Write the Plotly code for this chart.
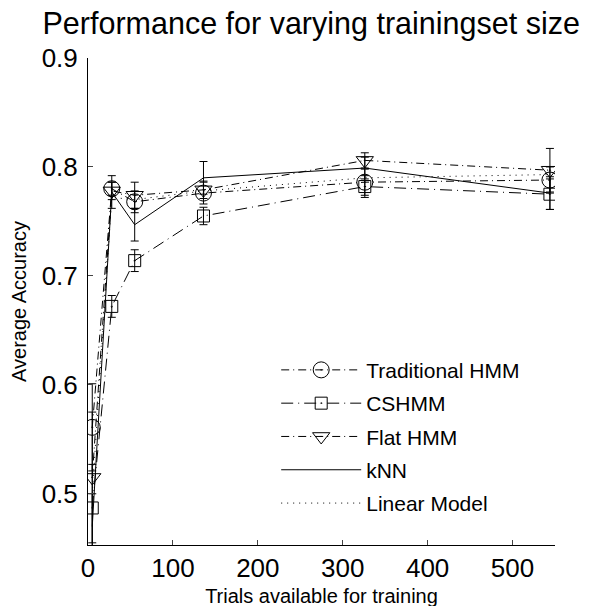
import plotly.graph_objects as go

x = [5, 28, 55, 136, 326, 544]

trad = [0.561, 0.780, 0.768, 0.776, 0.786, 0.788]
trad_err = [0.04, 0.006, 0.010, 0.010, 0.012, 0.012]

cshmm = [0.487, 0.672, 0.714, 0.755, 0.782, 0.775]
cshmm_err = [0.04, 0.010, 0.010, 0.008, 0.010, 0.014]

flat = [0.515, 0.778, 0.774, 0.779, 0.806, 0.797]
flat_err = [0.06, 0.008, 0.012, 0.008, 0.007, 0.020]

knn = [0.470, 0.777, 0.747, 0.790, 0.799, 0.776]
knn_err = [0.03, 0.015, 0.015, 0.015, 0.010, 0.015]

linear = [0.500, 0.772, 0.770, 0.778, 0.790, 0.793]

y_ticks = [0.5, 0.6, 0.7, 0.8, 0.9]
x_ticks = [0, 100, 200, 300, 400, 500]

FONT = "Liberation Sans, Arial, sans-serif"

fig = go.Figure()

def add(name, yv, err, dash, symbol, size):
    mode = "lines+markers" if symbol else "lines"
    kw = {}
    if err is not None:
        kw["error_y"] = dict(type="data", array=err, visible=True, color="black",
                             thickness=1, width=4)
    fig.add_trace(go.Scatter(
        x=x, y=yv, name=name, mode=mode, legendgroup=name,
        line=dict(color="black", width=1, dash=dash),
        marker=dict(symbol=symbol or "circle", size=size, color="black",
                    line=dict(color="black", width=1)),
        **kw))

add("Traditional HMM", trad, trad_err, "8px,4px,1px,4px", "circle-open-dot", 16)
add("CSHMM", cshmm, cshmm_err, "12px,5px,1px,5px", "square-open-dot", 12)
add("Flat HMM", flat, flat_err, "8px,4px,1px,4px", "triangle-down-open-dot", 15)
add("kNN", knn, knn_err, "solid", None, 6)
add("Linear Model", linear, None, "1px,5px", None, 6)

fig.update_layout(
    width=604, height=606,
    paper_bgcolor="white", plot_bgcolor="white",
    margin=dict(l=80, r=57, t=50, b=69),
    font=dict(family=FONT, color="black"),
    title=dict(text="Performance for varying trainingset size", x=0.502, xanchor="center",
               y=0.974, yanchor="middle", font=dict(size=30.5, color="black")),
    showlegend=True,
    legend=dict(x=0.403, y=0.401, xanchor="left", yanchor="top",
                bgcolor="rgba(0,0,0,0)", font=dict(size=21, color="black"),
                tracegroupgap=3, itemwidth=80),
)

fig.update_xaxes(range=[0, 550], tickvals=x_ticks, ticks="inside", ticklen=5,
                 showline=True, linecolor="black", linewidth=1, showgrid=False,
                 zeroline=False, tickfont=dict(size=26), automargin=False,
                 title=dict(text="Trials available for training", font=dict(size=20), standoff=6))
fig.update_yaxes(range=[0.453, 0.9], tickvals=y_ticks, ticktext=["0.5", "0.6", "0.7", "0.8", "0.9"],
                 ticks="inside", ticklen=5, automargin=False, ticklabelstandoff=4,
                 showline=True, linecolor="black", linewidth=1, showgrid=False,
                 zeroline=False, tickfont=dict(size=26),
                 title=dict(text="Average Accuracy", font=dict(size=20), standoff=22))

fig.write_html("out.html")
